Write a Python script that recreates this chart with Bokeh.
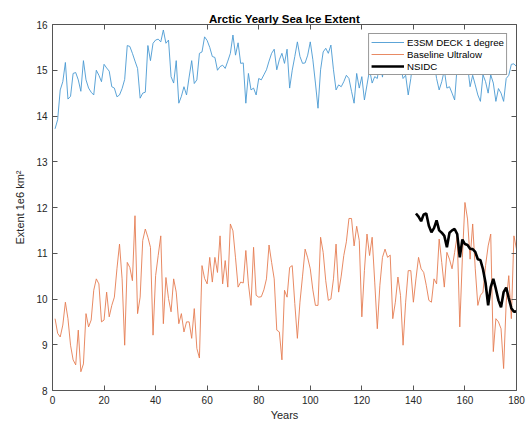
from bokeh.plotting import figure
from bokeh.models import LinearAxis, Range1d, FixedTicker, Legend, LegendItem, CustomLabelingPolicy
from bokeh.embed import file_html
from bokeh.resources import INLINE

years = list(range(1, 181))
e3sm_deck = [13.72, 13.92, 14.57, 14.75, 15.17, 14.37, 14.43, 14.93, 14.95, 14.79,
             14.54, 15.21, 14.79, 14.61, 14.52, 14.46, 15.00, 14.89, 14.75, 15.13,
             15.05, 14.98, 14.64, 14.61, 14.42, 14.46, 14.60, 14.80, 15.54, 15.52,
             15.37, 15.20, 15.04, 14.39, 14.50, 14.52, 15.54, 15.21, 15.59, 15.66,
             15.68, 15.62, 15.88, 15.59, 15.66, 14.86, 14.72, 15.21, 14.28, 14.43,
             14.64, 14.46, 14.85, 15.21, 14.71, 14.79, 15.37, 15.40, 15.73, 15.65,
             15.50, 15.30, 15.28, 15.00, 15.08, 15.11, 15.04, 15.20, 15.37, 15.77,
             15.33, 15.60, 15.15, 15.16, 14.28, 14.93, 14.57, 14.61, 14.46, 14.82,
             14.79, 14.90, 15.01, 15.20, 15.37, 15.46, 15.01, 15.23, 15.37, 15.15,
             15.46, 14.61, 15.00, 15.30, 15.62, 15.30, 15.15, 15.16, 15.33, 15.62,
             15.23, 14.72, 14.17, 15.01, 15.40, 15.48, 15.37, 15.55, 15.01, 14.57,
             14.68, 14.64, 14.75, 14.89, 14.82, 14.54, 14.28, 14.93, 14.61, 14.86,
             14.35, 14.68, 15.01, 14.72, 14.86, 14.82, 15.20, 14.85, 15.30, 15.50,
             15.10, 15.40, 15.60, 15.30, 15.10, 14.82, 14.89, 14.46, 14.82, 15.30,
             15.60, 15.20, 15.50, 15.70, 15.30, 15.10, 15.40, 15.20, 14.82, 14.57,
             14.75, 15.00, 14.61, 14.64, 14.50, 14.35, 15.10, 15.40, 15.20, 15.50,
             15.10, 14.64, 14.89, 14.68, 14.46, 14.32, 14.90, 14.75, 14.50, 14.90,
             14.72, 14.32, 14.60, 14.50, 14.32, 14.82, 14.89, 15.13, 15.14, 15.08]
baseline_ultralow = [9.57, 9.25, 9.17, 9.43, 9.93, 9.57, 8.99, 8.67, 8.56, 9.32,
                     8.41, 8.58, 9.68, 9.39, 9.54, 10.19, 10.44, 10.33, 9.50, 9.54,
                     10.15, 9.61, 9.86, 10.04, 10.66, 11.20, 10.44, 8.99, 10.80, 10.69,
                     10.40, 11.82, 9.68, 10.04, 11.28, 11.53, 11.35, 11.13, 9.21, 10.51,
                     10.95, 11.38, 9.46, 10.47, 10.01, 9.72, 10.44, 10.15, 9.46, 9.68,
                     9.28, 9.50, 9.50, 9.14, 9.79, 8.92, 8.71, 10.73, 10.45, 10.33,
                     10.91, 10.37, 10.91, 10.58, 11.38, 10.33, 10.84, 10.26, 11.64, 11.49,
                     10.90, 10.26, 10.37, 10.35, 11.06, 10.33, 9.86, 11.13, 10.08, 10.04,
                     10.05, 10.20, 10.44, 11.18, 10.80, 10.44, 9.32, 9.28, 8.67, 10.19,
                     10.04, 10.69, 10.73, 9.90, 9.14, 9.93, 10.50, 11.09, 10.90, 10.66,
                     10.20, 9.86, 9.86, 11.35, 11.02, 10.40, 9.97, 10.00, 10.44, 11.20,
                     10.15, 10.50, 10.95, 11.25, 11.76, 11.76, 11.16, 11.59, 11.28, 9.61,
                     10.62, 11.42, 10.95, 11.35, 10.37, 9.35, 10.30, 10.91, 11.09, 10.91,
                     10.96, 9.57, 9.93, 10.48, 10.08, 8.99, 9.93, 10.62, 10.62, 9.93,
                     10.44, 10.91, 10.66, 10.58, 10.30, 9.97, 9.93, 10.44, 10.33, 11.31,
                     10.80, 10.26, 11.02, 10.87, 10.66, 11.02, 11.38, 9.39, 10.90, 12.11,
                     11.75, 10.87, 11.64, 10.66, 9.86, 10.08, 10.15, 10.73, 11.16, 11.42,
                     8.85, 9.57, 9.50, 9.35, 8.48, 9.93, 10.51, 9.57, 11.38, 11.09]
nsidc_years = list(range(141, 181))
nsidc = [11.87, 11.80, 11.70, 11.85, 11.87, 11.60, 11.46, 11.55, 11.72, 11.50,
         11.45, 11.38, 11.13, 11.45, 11.50, 11.53, 11.42, 10.91, 11.30, 11.20,
         11.18, 11.10, 11.09, 11.03, 10.87, 10.85, 10.65, 10.35, 9.86, 10.26,
         10.44, 10.22, 9.97, 9.82, 10.15, 10.25, 10.02, 9.80, 9.72, 9.73]
x_ticks = [0, 20, 40, 60, 80, 100, 120, 140, 160, 180]
y_ticks = [8, 9, 10, 11, 12, 13, 14, 15, 16]
series_labels = ["E3SM DECK 1 degree", "Baseline Ultralow", "NSIDC"]

FONT = "Liberation Sans"
AX = "#262626"
AXL = "#555555"

p = figure(width=531, height=423, output_backend="svg", toolbar_location=None,
           x_range=Range1d(0, 180), y_range=Range1d(8, 16),
           min_border_left=52, min_border_right=15, min_border_top=24, min_border_bottom=31,
           title="Arctic Yearly Sea Ice Extent")
p.xgrid.visible = False
p.ygrid.visible = False
p.outline_line_color = None
p.background_fill_color = "white"
p.border_fill_color = "white"

p.title.text_font = FONT
p.title.text_font_size = "11.5px"
p.title.text_font_style = "bold"
p.title.text_color = "#000000"
p.title.align = "center"
p.title.standoff = 0

no_labels = CustomLabelingPolicy(code="""
    for (const i of indices)
        indices.unset(i)
    return indices
""")

top = LinearAxis(major_label_policy=no_labels)
right = LinearAxis(major_label_policy=no_labels)
p.add_layout(top, "above")
p.add_layout(right, "right")

for ax in p.xaxis:
    ax.ticker = FixedTicker(ticks=x_ticks)
for ax in p.yaxis:
    ax.ticker = FixedTicker(ticks=y_ticks)
for ax in list(p.xaxis) + list(p.yaxis):
    show = ax not in (top, right)
    ax.major_tick_in = 5
    ax.major_tick_out = 0
    ax.minor_tick_line_color = None
    ax.axis_line_color = AXL
    ax.major_tick_line_color = AXL
    ax.major_label_text_font = FONT
    ax.major_label_text_color = AX
    ax.major_label_text_font_size = "10px" if show else "0px"
    ax.major_label_standoff = 5 if show else 0

p.below[0].axis_label = "Years"
p.left[0].axis_label = "Extent 1e6 km\u00b2"
for ax in (p.below[0], p.left[0]):
    ax.axis_label_text_font = FONT
    ax.axis_label_text_font_size = "11px"
    ax.axis_label_text_font_style = "normal"
    ax.axis_label_text_color = AX
p.below[0].axis_label_standoff = 2
p.left[0].axis_label_standoff = 7

r1 = p.line(years, e3sm_deck, line_color="#4a9ad3", line_width=0.9)
r2 = p.line(years, baseline_ultralow, line_color="#e57d52", line_width=0.9)
r3 = p.line(nsidc_years, nsidc, line_color="black", line_width=2.6)

legend = Legend(items=[LegendItem(label=series_labels[0], renderers=[r1]),
                       LegendItem(label=series_labels[1], renderers=[r2]),
                       LegendItem(label=series_labels[2], renderers=[r3])],
                location="top_right", margin=9, padding=2, spacing=0,
                glyph_width=33, glyph_height=12, label_standoff=3,
                label_text_font=FONT, label_text_font_size="9.7px", label_text_color="#000000",
                label_height=12, border_line_color="#333333", border_line_width=1,
                background_fill_color="white", background_fill_alpha=1)
p.add_layout(legend)

open("out.html", "w").write(file_html(p, INLINE))
